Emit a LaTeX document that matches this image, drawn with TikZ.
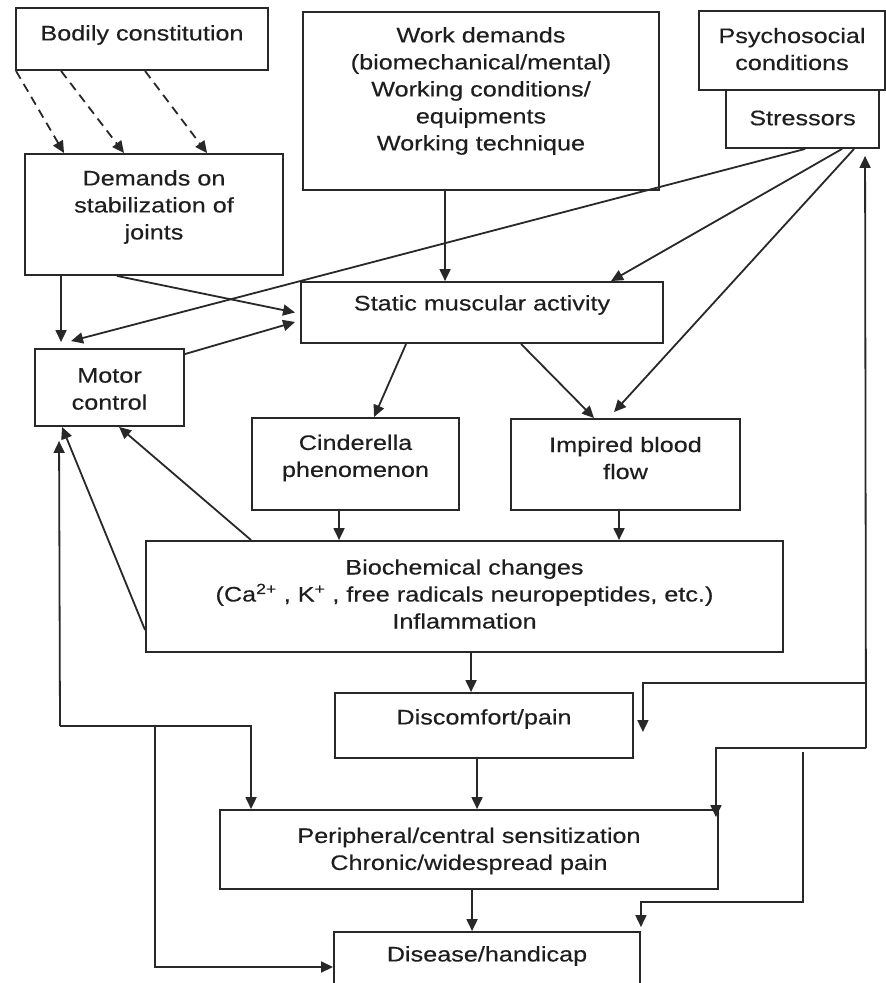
\documentclass[tikz,border=0pt]{standalone}
\usepackage{fontspec}
\setmainfont{Liberation Sans}[FakeStretch=1.2,FakeBold=0.35]
\usetikzlibrary{arrows.meta}
\definecolor{linec}{RGB}{40,40,40}
\definecolor{textc}{RGB}{30,30,30}
\begin{document}
\begin{tikzpicture}[x=1pt,y=-1pt]
\tikzset{
 box/.style={draw=linec, line width=1.9pt, inner sep=0pt},
 txt/.style={text=textc, align=center, font=\fontsize{21}{27}\selectfont, inner sep=0pt},
 arr/.style={draw=linec, line width=1.8pt, -{Triangle[length=12pt,width=11pt]}},
 dasharr/.style={arr, dash pattern=on 9pt off 6pt},
 ln/.style={draw=linec, line width=1.8pt}
}
\useasboundingbox (0,0) rectangle (886,983);
% boxes
\node[box, minimum width=252pt, minimum height=62pt] (bodily) at (142,39) {};
\node[box, minimum width=258pt, minimum height=121pt] (demands) at (154,214.5) {};
\node[box, minimum width=356pt, minimum height=178pt] (work) at (481,101) {};
\node[box, minimum width=186pt, minimum height=79pt] (psycho) at (792,50.5) {};
\node[box, minimum width=153pt, minimum height=58pt] (stress) at (802.5,119) {};
\node[box, minimum width=362pt, minimum height=61pt] (static) at (482,312.5) {};
\node[box, minimum width=149pt, minimum height=77pt] (motor) at (109.5,387.5) {};
\node[box, minimum width=207pt, minimum height=92pt] (cind) at (355.5,464) {};
\node[box, minimum width=229pt, minimum height=91pt] (blood) at (625.5,464.5) {};
\node[box, minimum width=637pt, minimum height=111pt] (bio) at (464.5,596.5) {};
\node[box, minimum width=298pt, minimum height=65pt] (disc) at (484,725.5) {};
\node[box, minimum width=498pt, minimum height=79pt] (peri) at (469,849.5) {};
\node[box, minimum width=306pt, minimum height=58pt] (dis) at (487,961) {};
% texts
\node[txt] (bodily-t) at (142,35) {Bodily constitution};
\node[txt] (demands-t) at (154,207) {Demands on\\stabilization of\\joints};
\node[txt] (work-t) at (481,91) {Work demands\\(biomechanical/mental)\\Working conditions/\\equipments\\Working technique};
\node[txt] (psycho-t) at (792,49) {Psychosocial\\conditions};
\node[txt] (stress-t) at (802.5,118) {Stressors};
\node[txt] (static-t) at (482,305) {Static muscular activity};
\node[txt] (motor-t) at (109.5,389) {Motor\\control};
\node[txt] (cind-t) at (355.5,458) {Cinderella\\phenomenon};
\node[txt] (blood-t) at (625.5,458) {Impired blood\\flow};
\node[txt] (bio-t) at (464.5,594) {Biochemical changes\\(Ca\textsuperscript{2+} , K\textsuperscript{+} , free radicals neuropeptides, etc.)\\Inflammation};
\node[txt] (disc-t) at (484,719) {Discomfort/pain};
\node[txt] (peri-t) at (469,851) {Peripheral/central sensitization\\Chronic/widespread pain};
\node[txt] (dis-t) at (487,956) {Disease/handicap};
% dashed arrows
\draw[dasharr] ([xshift=1pt]bodily.south west) -- ([xshift=40pt]demands.north west);
\draw[dasharr] ([xshift=46pt]bodily.south west) -- ([xshift=100pt]demands.north west);
\draw[dasharr] ([xshift=130pt]bodily.south west) -- ([xshift=183pt]demands.north west);
% arrows
\draw[arr] ([xshift=37pt]demands.south west) -- ([xshift=27pt,yshift=6pt]motor.north west);
\draw[arr] ([xshift=93pt]demands.south west) -- ([xshift=-5pt]static.west);
\draw[arr] ([xshift=80pt]stress.south west) -- ([xshift=37pt,yshift=7pt]motor.north west);
\draw[arr] ([yshift=-6pt]motor.north east) -- ([xshift=-5pt,yshift=-9.5pt]static.west);
\draw[arr] ([xshift=143pt]work.south west) -- ([xshift=145pt]static.north west);
\draw[arr] ([xshift=117pt]stress.south west) -- ([xshift=311pt]static.north west);
\draw[arr] ([xshift=129pt]stress.south west) -- ([xshift=104pt,yshift=6pt]blood.north west);
\draw[arr] ([xshift=106pt]static.south west) -- ([xshift=123pt]cind.north west);
\draw[arr] ([xshift=221pt]static.south west) -- ([xshift=84pt]blood.north west);
\draw[arr] ([xshift=88pt]cind.south west) -- ([xshift=194pt]bio.north west);
\draw[arr] ([xshift=109pt]blood.south west) -- ([xshift=474pt]bio.north west);
\draw[arr] ([xshift=106pt]bio.north west) -- ([xshift=85pt]motor.south west);
\draw[arr] ([yshift=-33.5pt]bio.west) -- ([xshift=28pt]motor.south west);
\draw[arr] ([xshift=326pt]bio.south west) -- ([xshift=137pt]disc.north west);
\draw[arr] ([xshift=143pt]disc.south west) -- ([xshift=258pt]peri.north west);
\draw[arr] ([xshift=253pt]peri.south west) -- ([xshift=139pt]dis.north west);
% left feedback lines
\coordinate (j1) at (60,726);
\coordinate (j2) at (155,726);
\draw[arr] (j1) -- ([xshift=25pt,yshift=-14pt]motor.south west);
\draw[arr] (j1) -| ([xshift=32pt]peri.north west);
\draw[arr] (j2) |- ([yshift=-6pt]dis.west);
% right feedback lines
\coordinate (r1) at (866,748);
\coordinate (r2) at (866,683);
\coordinate (r3) at (803,752);
\draw[arr] (r1) -- ([xshift=140pt,yshift=-7pt]stress.south west);
\draw[arr] (r2) -| ([xshift=9pt,yshift=-6.5pt]disc.east);
\draw[arr] (r1) -| ([xshift=-3pt,yshift=-8pt]peri.north east);
\draw[arr] (r3) |- ([yshift=29pt]dis.north east) -- ([yshift=4pt]dis.north east);
\end{tikzpicture}
\end{document}
